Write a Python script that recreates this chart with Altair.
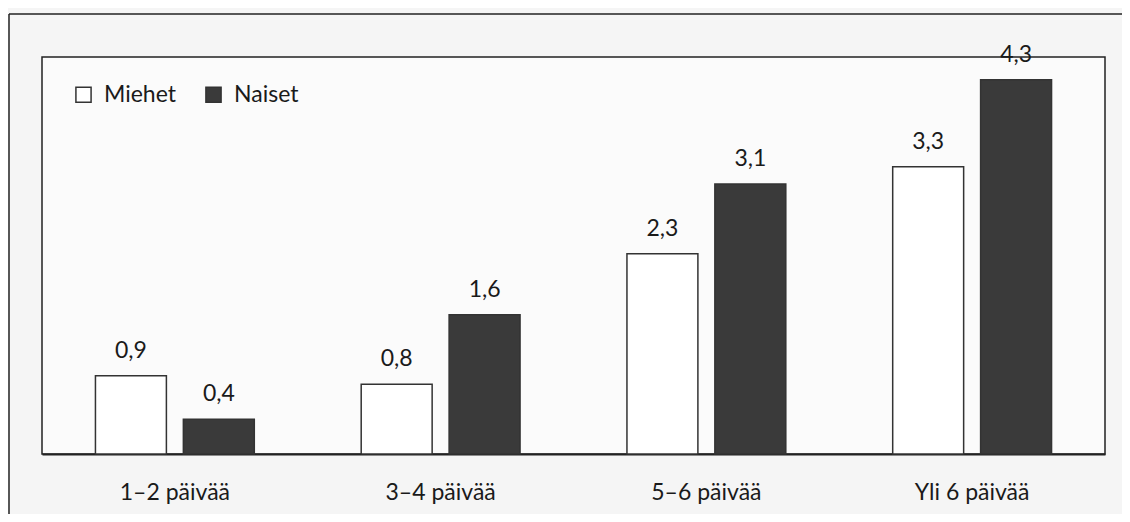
import altair as alt
import pandas as pd

categories = ["1–2 päivää", "3–4 päivää", "5–6 päivää", "Yli 6 päivää"]
series = ["Miehet", "Naiset"]
miehet = [0.9, 0.8, 2.3, 3.3]
naiset = [0.4, 1.6, 3.1, 4.3]

rows = []
for c, m, n in zip(categories, miehet, naiset):
    rows.append({"cat": c, "sex": "Miehet", "val": m})
    rows.append({"cat": c, "sex": "Naiset", "val": n})
df = pd.DataFrame(rows)
df["label"] = df["val"].map(lambda v: f"{v:.1f}".replace(".", ","))

FONT = "Lato"

x = alt.X("cat:N", sort=categories, title=None,
          scale=alt.Scale(paddingInner=0, paddingOuter=0),
          axis=alt.Axis(labelAngle=0, labelFontSize=23, labelColor="#1a1a1a",
                        labelFont=FONT, labelPadding=27, ticks=False,
                        domainColor="#222", domainWidth=2))
xo = alt.XOffset("sex:N", sort=series,
                 scale=alt.Scale(paddingInner=0.193, paddingOuter=0.608))
y = alt.Y("val:Q", scale=alt.Scale(domain=[0, 4.56], nice=False, zero=True),
          axis=None)

base = alt.Chart(df)

bars = base.mark_bar(stroke="#333", strokeWidth=1.5).encode(
    x=x, xOffset=xo, y=y,
    fill=alt.Fill("sex:N", sort=series,
                  scale=alt.Scale(domain=series, range=["#ffffff", "#3a3a3a"]),
                  legend=alt.Legend(title=None, orient="none", legendX=30, legendY=26,
                                    direction="horizontal", symbolType="square",
                                    symbolSize=230, symbolStrokeColor="#333",
                                    symbolStrokeWidth=1.5, labelFontSize=23,
                                    labelFont=FONT, labelColor="#1a1a1a",
                                    columnPadding=26, labelOffset=9)),
)

texts = base.mark_text(baseline="bottom", dy=-13, fontSize=23, font=FONT,
                       color="#1a1a1a").encode(
    x=x, xOffset=xo, y=y, text="label:N"
)

frame_left = alt.Chart(pd.DataFrame({"a": [0]})).mark_rule(
    color="#222", strokeWidth=1.5, clip=False).encode(
    x=alt.value(-33), y=alt.value(-43), y2=alt.value(470))
frame_top = alt.Chart(pd.DataFrame({"a": [0]})).mark_rule(
    color="#222", strokeWidth=1.5, clip=False).encode(
    x=alt.value(-33), x2=alt.value(1090), y=alt.value(-43))

chart = alt.layer(frame_left, frame_top, bars, texts).properties(
    width=1063, height=397,
    padding={"left": 34, "top": 49, "right": 17, "bottom": 60},
    autosize=alt.AutoSizeParams(type="none"),
    background="#f5f5f5",
).configure_view(stroke="#222", strokeWidth=1.5, fill="#fbfbfb")

chart.save("out.html", embed_options={"renderer": "svg", "actions": False})
